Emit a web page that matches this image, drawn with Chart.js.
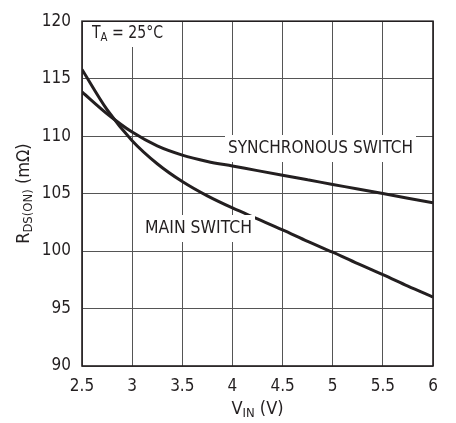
<!DOCTYPE html>
<html>
<head>
<meta charset="utf-8">
<script src="https://cdn.jsdelivr.net/npm/chart.js@4/dist/chart.umd.min.js"></script>
<style>
  html, body { margin: 0; padding: 0; background: #fff; }
  #wrap { width: 456px; height: 423px; }
</style>
</head>
<body>
<div id="wrap"><canvas id="rdsChart"></canvas></div>
<script>
// values
const vin = [2.5, 2.75, 3, 3.25, 3.5, 3.75, 4, 4.25, 4.5, 4.75, 5, 5.25, 5.5, 5.75, 6];
const mainSwitch = [115.8, 112.3, 109.6, 107.6, 106.05, 104.8, 103.75, 102.8, 101.85, 100.85, 99.9, 98.9, 97.95, 96.95, 96.0];
const syncSwitch = [113.85, 111.95, 110.35, 109.15, 108.35, 107.8, 107.4, 107.0, 106.6, 106.2, 105.8, 105.4, 105.0, 104.6, 104.2];
const xTicks = [2.5, 3, 3.5, 4, 4.5, 5, 5.5, 6];
const yTicks = [90, 95, 100, 105, 110, 115, 120];

const INK = '#231f20';
const FONT = '"DejaVu Sans Condensed", "Liberation Sans", sans-serif';

function pts(xs, ys) {
  return xs.map((x, i) => ({ x: x, y: ys[i] }));
}

// text with subscript pieces: parts = [[text, isSub], ...]
function richWidth(ctx, parts, size) {
  let w = 0;
  parts.forEach(p => {
    ctx.font = (p[1] ? size * 0.72 : size) + 'px ' + FONT;
    w += ctx.measureText(p[0]).width;
  });
  return w;
}
function drawRich(ctx, parts, x, y, size) {
  let cx = x;
  parts.forEach(p => {
    ctx.font = (p[1] ? size * 0.72 : size) + 'px ' + FONT;
    ctx.fillText(p[0], cx, p[1] ? y + size * 0.28 : y);
    cx += ctx.measureText(p[0]).width;
  });
}

const annotations = {
  id: 'annotations',
  afterDraw(chart) {
    const ctx = chart.ctx;
    const a = chart.chartArea;
    ctx.save();
    ctx.textBaseline = 'middle';
    ctx.textAlign = 'left';

    // labels inside plot, on white boxes
    const labels = [
      { parts: [['T', false], ['A', true], [' = 25°C', false]], x: 92, y: 33, w: 71 },
      { parts: [['SYNCHRONOUS SWITCH', false]], x: 228, y: 148, w: 185 },
      { parts: [['MAIN SWITCH', false]], x: 145, y: 228, w: 107 }
    ];
    labels.forEach(l => {
      const nat = richWidth(ctx, l.parts, 18);
      const sx = l.w / nat;
      ctx.fillStyle = '#fff';
      ctx.fillRect(l.x - 3, l.y - 13, l.w + 6, 27);
      ctx.save();
      ctx.translate(l.x, l.y);
      ctx.scale(sx, 1);
      ctx.fillStyle = INK;
      drawRich(ctx, l.parts, 0, 0, 18);
      ctx.restore();
    });

    // frame
    ctx.strokeStyle = INK;
    ctx.lineWidth = 1.6;
    ctx.strokeRect(a.left, a.top, a.right - a.left, a.bottom - a.top);

    // x title
    const xt = [['V', false], ['IN', true], [' (V)', false]];
    const xw = richWidth(ctx, xt, 18);
    ctx.fillStyle = INK;
    drawRich(ctx, xt, (a.left + a.right) / 2 - xw / 2, 409, 18);

    // y title, rotated
    const yt = [['R', false], ['DS(ON)', true], [' (mΩ)', false]];
    const yw = richWidth(ctx, yt, 18);
    ctx.translate(24, (a.top + a.bottom) / 2);
    ctx.rotate(-Math.PI / 2);
    drawRich(ctx, yt, -yw / 2, 0, 18);
    ctx.restore();
  }
};

const ctx = document.getElementById('rdsChart').getContext('2d');
new Chart(ctx, {
  type: 'line',
  data: {
    datasets: [
      {
        label: 'Main Switch',
        data: pts(vin, mainSwitch),
        borderColor: INK,
        borderWidth: 3,
        pointRadius: 0,
        cubicInterpolationMode: 'monotone'
      },
      {
        label: 'Synchronous Switch',
        data: pts(vin, syncSwitch),
        borderColor: INK,
        borderWidth: 3,
        pointRadius: 0,
        cubicInterpolationMode: 'monotone'
      }
    ]
  },
  options: {
    responsive: true,
    maintainAspectRatio: false,
    animation: false,
    layout: { padding: { top: 15, right: 23, left: 0, bottom: 0 } },
    plugins: { legend: { display: false }, tooltip: { enabled: false } },
    scales: {
      x: {
        type: 'linear',
        min: 2.5,
        max: 6,
        afterBuildTicks: s => { s.ticks = xTicks.map(v => ({ value: v })); },
        afterFit: s => { s.height = 57; },
        grid: { color: '#555', lineWidth: 1, drawTicks: false },
        border: { display: false },
        ticks: { color: INK, padding: 10, font: { family: FONT, size: 17 }, callback: v => String(v) }
      },
      y: {
        min: 90,
        max: 120,
        afterBuildTicks: s => { s.ticks = yTicks.map(v => ({ value: v })); },
        afterFit: s => { s.width = 82; },
        grid: { color: '#555', lineWidth: 1, drawTicks: false },
        border: { display: false },
        ticks: { color: INK, padding: 11, font: { family: FONT, size: 17 }, callback: v => String(v) }
      }
    }
  },
  plugins: [annotations]
});
</script>
</body>
</html>
